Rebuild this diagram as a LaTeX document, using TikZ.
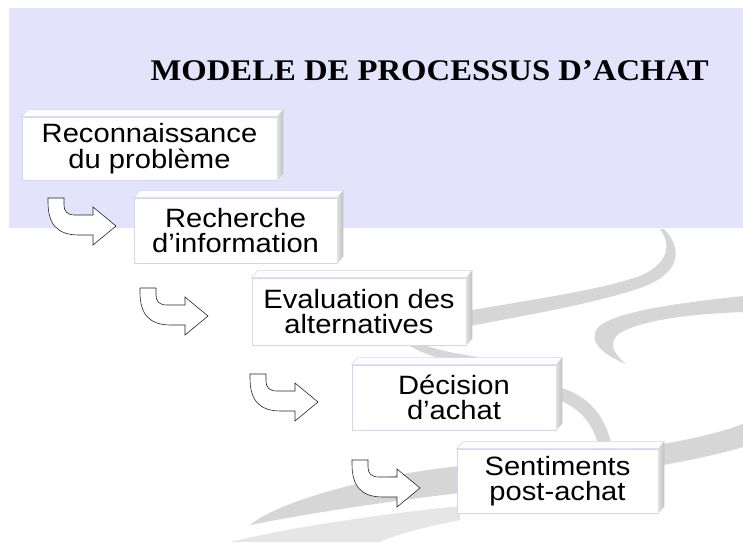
\documentclass[tikz,border=0pt]{standalone}
\usepackage{fontspec}
\usepackage{xcolor}
\usepackage{tikz}
\setmainfont{Liberation Sans}
\newfontfamily\boxfont[FakeStretch=1.1]{Liberation Sans}
\newfontfamily\titlefont[FakeStretch=1.09]{Liberation Serif}

\definecolor{lavbg}{RGB}{227,227,251}
\definecolor{lavline}{RGB}{212,212,244}
\definecolor{swoosh}{RGB}{214,214,214}
\definecolor{swooshlight}{RGB}{230,230,230}

\tikzset{
  stepbox/.style={draw=lavline, fill=white, line width=0.8pt, align=center,
    inner sep=0pt, font=\boxfont\fontsize{26.5}{25.5}\selectfont},
  topface/.style={fill=white!94!lavbg, draw=lavline, line width=0.6pt},
  hookarrow/.pic={
    \filldraw[fill=white, draw=black!85, line width=0.6pt]
      (0,0) -- (16,0) -- (16,7) .. controls (16,13) and (19,17) .. (27,17)
      -- (45,17) -- (45,9) -- (68,28) -- (45,47) -- (45,37) -- (31,37)
      .. controls (9,37) and (0,26) .. (0,4) -- cycle;
  }
}

\begin{document}
\begin{tikzpicture}[x=1pt,y=-1pt]

\useasboundingbox (0,0) rectangle (743,542);
\fill[white] (0,0) rectangle (743,542);
\fill[lavbg] (9,8) rectangle (743,228);

\fill[swoosh] (664,229) .. controls (684,250) and (680,274) .. (640,288)
  .. controls (590,305) and (520,316) .. (460,328) -- (460,312)
  .. controls (530,300) and (600,290) .. (640,276)
  .. controls (668,264) and (672,245) .. (660,229) -- cycle;
\fill[swoosh] (405,343) .. controls (425,356) and (450,362) .. (478,367)
  -- (478,357) .. controls (452,353) and (432,349) .. (420,343) -- cycle;
\fill[swoosh] (550,385) .. controls (585,392) and (606,412) .. (613,452)
  -- (600,452) .. controls (594,422) and (578,405) .. (550,397) -- cycle;
\fill[swoosh] (743,296) .. controls (680,303) and (625,310) .. (602,324)
  .. controls (586,336) and (596,352) .. (626,364)
  .. controls (612,352) and (608,342) .. (620,333)
  .. controls (642,320) and (690,314) .. (743,312) -- cycle;
\fill[swoosh] (250,525) .. controls (280,500) and (380,474) .. (460,466)
  .. controls (560,458) and (680,448) .. (743,424) -- (743,447)
  .. controls (680,466) and (560,482) .. (460,493)
  .. controls (380,502) and (300,515) .. (250,525) -- cycle;
\fill[swooshlight] (230,542) .. controls (300,525) and (400,512) .. (460,506)
  -- (460,520) .. controls (420,528) and (395,535) .. (380,542) -- cycle;

\node[font=\titlefont\bfseries\fontsize{30}{30}\selectfont, anchor=base west]
  (title) at (147,80) {MODELE DE PROCESSUS D’ACHAT};

\node[stepbox, minimum width=255, minimum height=63] (recon) at (149.5,148.5)
  {Reconnaissance\\du problème};
\node[stepbox, minimum width=203, minimum height=65] (rech) at (235.5,230.5)
  {Recherche\\d’information};
\node[stepbox, minimum width=214, minimum height=67] (eval) at (359,311.5)
  {Evaluation des\\alternatives};
\node[stepbox, minimum width=204, minimum height=65] (deci) at (454,397.5)
  {Décision\\d’achat};
\node[stepbox, minimum width=201, minimum height=64] (sent) at (557.5,481)
  {Sentiments\\post-achat};

\foreach \n in {recon,rech,eval,deci,sent}{
  \filldraw[topface] (\n.north west) -- ++(6,-7)
    -- ([xshift=6pt,yshift=7pt]\n.north east) -- (\n.north east) -- cycle;
  \shade[left color=gray!25, right color=gray!50] (\n.north east) -- ++(6,-7)
    -- ([xshift=6pt,yshift=7pt]\n.south east) -- (\n.south east) -- cycle;
}

\pic at (48,198) {hookarrow};
\pic at (140,288) {hookarrow};
\pic at (250,374) {hookarrow};
\pic at (352,460) {hookarrow};

\end{tikzpicture}
\end{document}
